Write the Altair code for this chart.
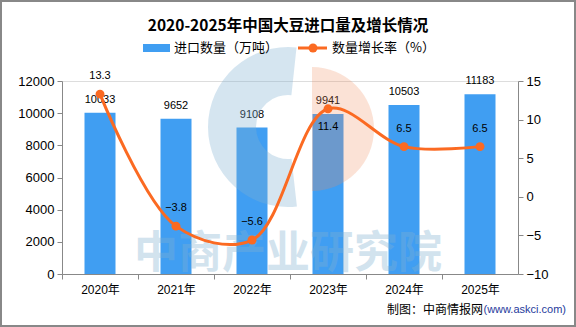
import altair as alt
import pandas as pd

years = ["2020年", "2021年", "2022年", "2023年", "2024年", "2025年"]
imports = [10033, 9652, 9108, 9941, 10503, 11183]
growth = [13.3, -3.8, -5.6, 11.4, 6.5, 6.5]

title_text = "2020-2025年中国大豆进口量及增长情况"
legend_bar = "进口数量（万吨）"
legend_line = "数量增长率（%）"
source_black = "制图：中商情报网"
source_blue = "(www.askci.com)"
watermark = "中商产业研究院"

df = pd.DataFrame({"year": years, "imports": imports, "growth": growth})

FONT = "Liberation Sans, Noto Sans CJK SC"
CJK = "Noto Sans CJK SC"
BLUE = "#409ef2"
ORANGE = "#fb6a22"
W, H = 456, 193

base = alt.Chart(df)
xenc = alt.X("year:N", sort=years, title=None,
             scale=alt.Scale(paddingInner=0, paddingOuter=0),
             axis=alt.Axis(labelAngle=0, tickSize=5, tickOffset=-38, labelOffset=38,
                           labelFontSize=12, labelPadding=5, domainColor="#888",
                           tickColor="#888", labelColor="#000", labelFont=FONT))

ybar = alt.Y("imports:Q", title=None, scale=alt.Scale(domain=[0, 12000], nice=False),
             axis=alt.Axis(values=list(range(0, 12001, 2000)), grid=False, tickSize=5,
                           format="d", labelOverlap=False,
                           labelFontSize=13, labelPadding=3, domainColor="#888",
                           tickColor="#888", labelColor="#000", labelFont=FONT))

bars = base.mark_bar(size=31, color=BLUE).encode(x=xenc, y=ybar)
bar_labels = base.mark_text(baseline="bottom", dy=-8, fontSize=11, font=FONT, color="#000").encode(
    x=xenc, y=ybar, text=alt.Text("imports:Q", format="d"))
bar_group = alt.layer(bars, bar_labels)

# watermark
one = alt.Data(values=[{"a": 1}])
logo_blue = alt.Chart(one).mark_arc(
    theta=3.03, theta2=6.39, radius=80, radius2=32, color="#7fb0d0", opacity=0.33
).encode(x=alt.value(226), y=alt.value(46))
logo_orange = alt.Chart(one).mark_arc(
    theta=0.0, theta2=3.1416, radius=62, color="#f08a5a", opacity=0.25
).encode(x=alt.value(250), y=alt.value(48))
wm_text = alt.Chart(one).mark_text(
    text=watermark, fontSize=44, fontWeight="bold", font=CJK, color="#7fb0d0",
    opacity=0.35, align="center", baseline="middle"
).encode(x=alt.value(226), y=alt.value(174))

yline = alt.Y("growth:Q", title=None, scale=alt.Scale(domain=[-10, 15], nice=False),
              axis=alt.Axis(orient="right", values=[-10, -5, 0, 5, 10, 15], grid=False,
                            format="d", labelOverlap=False,
                            tickSize=5, labelFontSize=13, labelPadding=3,
                            domainColor="#888", tickColor="#888", labelColor="#000",
                            labelFont=FONT))
line = base.mark_line(color=ORANGE, strokeWidth=3, interpolate="catmull-rom").encode(
    x=xenc, y=yline)
points = base.mark_point(filled=True, size=80, color=ORANGE, opacity=1).encode(
    x=xenc, y=yline)
lab_up = base.transform_filter(alt.datum.year != "2023年").mark_text(
    baseline="bottom", dy=-13, fontSize=11, font=FONT, color="#000").encode(
    x=xenc, y=yline, text=alt.Text("growth:Q", format=".1f"))
lab_down = base.transform_filter(alt.datum.year == "2023年").mark_text(
    baseline="top", dy=12, fontSize=11, font=FONT, color="#000").encode(
    x=xenc, y=yline, text=alt.Text("growth:Q", format=".1f"))
line_group = alt.layer(line, points, lab_up, lab_down)

# title, legend, source, border
title = alt.Chart(one).mark_text(
    text=title_text, fontSize=15.5, fontWeight="bold", font=CJK, color="#000",
    align="center", baseline="middle").encode(x=alt.value(226), y=alt.value(-55))
leg_rect = alt.Chart(one).mark_rect(color=BLUE).encode(
    x=alt.value(81), x2=alt.value(108), y=alt.value(-37), y2=alt.value(-29))
leg_text1 = alt.Chart(one).mark_text(
    text=legend_bar, fontSize=13, font=CJK, color="#000", align="left", baseline="middle"
).encode(x=alt.value(112), y=alt.value(-33))
leg_rule = alt.Chart(one).mark_rule(color=ORANGE, strokeWidth=3).encode(
    x=alt.value(236), x2=alt.value(265), y=alt.value(-33))
leg_pt = alt.Chart(one).mark_point(filled=True, size=80, color=ORANGE, opacity=1).encode(
    x=alt.value(251), y=alt.value(-33))
leg_text2 = alt.Chart(one).mark_text(
    text=legend_line, fontSize=13, font=CJK, color="#000", align="left", baseline="middle"
).encode(x=alt.value(270), y=alt.value(-33))
src1 = alt.Chart(one).mark_text(
    text=source_black, fontSize=12, font=CJK, color="#000", align="right", baseline="middle"
).encode(x=alt.value(421), y=alt.value(229))
src2 = alt.Chart(one).mark_text(
    text=source_blue, fontSize=11, font="Liberation Sans", color="#1f3b9c", align="right",
    baseline="middle").encode(x=alt.value(504), y=alt.value(229))
border = alt.Chart(one).mark_rect(fill=None, stroke="#888", strokeWidth=2).encode(
    x=alt.value(-61), x2=alt.value(513), y=alt.value(-80), y2=alt.value(245))

chart = alt.layer(
    bar_group, logo_blue, logo_orange, wm_text, line_group,
    title, leg_rect, leg_text1, leg_rule, leg_pt, leg_text2, src1, src2, border
).resolve_scale(y="independent").properties(
    width=W, height=H,
    autosize=alt.AutoSizeParams(type="none"),
    padding={"left": 62, "right": 58, "top": 81, "bottom": 53},
).configure_view(stroke=None).configure(background="white")

chart.save("out.html", embed_options={"renderer": "svg", "actions": False})
